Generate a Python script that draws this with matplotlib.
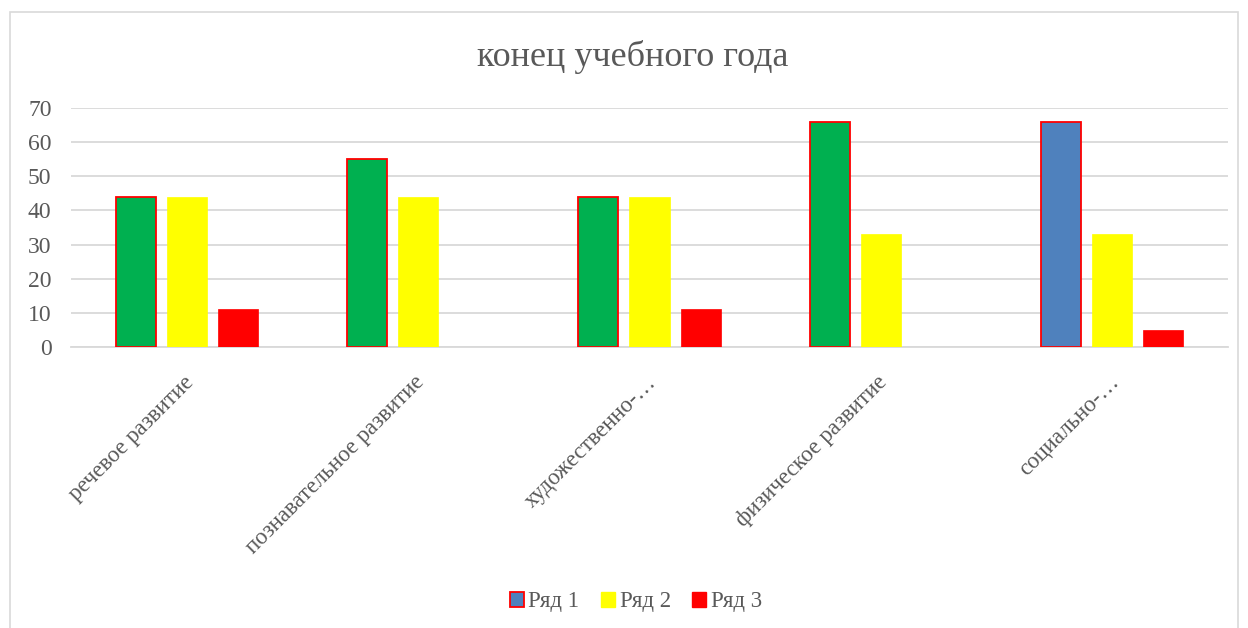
import matplotlib
matplotlib.use("Agg")
import matplotlib.pyplot as plt
from matplotlib.patches import Rectangle, Patch
import matplotlib.transforms as mtransforms
import numpy as np

categories = ["речевое развитие", "познавательное развитие", "художественно-…",
              "физическое развитие", "социально-…"]
series_names = ["Ряд 1", "Ряд 2", "Ряд 3"]
row1 = [44, 55, 44, 66, 66]
row2 = [44, 44, 44, 33, 33]
row3 = [11, 0, 11, 0, 5]
row1_colors = ["#00B050", "#00B050", "#00B050", "#00B050", "#4F81BD"]
yticks = [0, 10, 20, 30, 40, 50, 60, 70]
title = "конец учебного года"

plt.rcParams['font.family'] = ['Liberation Serif', 'DejaVu Serif']
W, H = 1248, 628
fig = plt.figure(figsize=(W/100, H/100), dpi=100)
# outer chart border
fig.patches.append(Rectangle((10/W, -0.01), (1238-10)/W, (628-12)/H + 0.01,
                             transform=fig.transFigure, fill=False,
                             edgecolor="#D9D9D9", linewidth=1.2))

ax = fig.add_axes([71/W, 1-347/H, (1228-71)/W, (347-108)/H])
x = np.arange(len(categories))
bw = 0.173
off = 0.221
ax.bar(x - off, row1, bw, color=row1_colors, edgecolor="#FF0000", linewidth=1.3, zorder=3)
ax.bar(x, row2, bw, color="#FFFF00", edgecolor="#FFFF00", linewidth=0.5, zorder=3)
ax.bar(x + off, row3, bw, color="#FF0000", edgecolor="#FF0000", linewidth=0.5, zorder=3)

ax.set_xlim(-0.5, len(categories) - 0.5)
ax.set_ylim(0, 70)
ax.set_yticks(yticks)
ax.set_yticklabels([str(v) for v in yticks], fontsize=17, color="#595959")
ax.yaxis.grid(True, color="#D9D9D9", linewidth=1.3, zorder=0)
ax.set_axisbelow(True)
for s in ["top", "right", "left"]:
    ax.spines[s].set_visible(False)
ax.spines["bottom"].set_color("#D9D9D9")
ax.spines["bottom"].set_linewidth(1.3)
ax.tick_params(axis="both", length=0)
ax.tick_params(axis="y", pad=14)
ax.set_xticks(x)
ax.set_xticklabels(categories, rotation=45, ha="right", rotation_mode="anchor",
                   fontsize=16.5, color="#595959")
ax.tick_params(axis="x", pad=18)
shift = mtransforms.ScaledTranslation(-4/100, 0, fig.dpi_scale_trans)
for lab in ax.get_xticklabels():
    lab.set_transform(lab.get_transform() + shift)

fig.text(633/W, 1-57/H, title, ha="center", va="center", fontsize=26, color="#595959")

handles = [Patch(facecolor="#4F81BD", edgecolor="#FF0000", linewidth=1.3),
           Patch(facecolor="#FFFF00", edgecolor="#FFFF00"),
           Patch(facecolor="#FF0000", edgecolor="#FF0000")]
leg = fig.legend(handles, series_names, loc="center", bbox_to_anchor=(636/W, 1-602/H),
                 ncol=3, frameon=False, fontsize=16.5, handlelength=0.6, handleheight=0.6,
                 handletextpad=0.2, columnspacing=0.95)
for t in leg.get_texts():
    t.set_color("#595959")

fig.savefig("out.png", dpi=100)
